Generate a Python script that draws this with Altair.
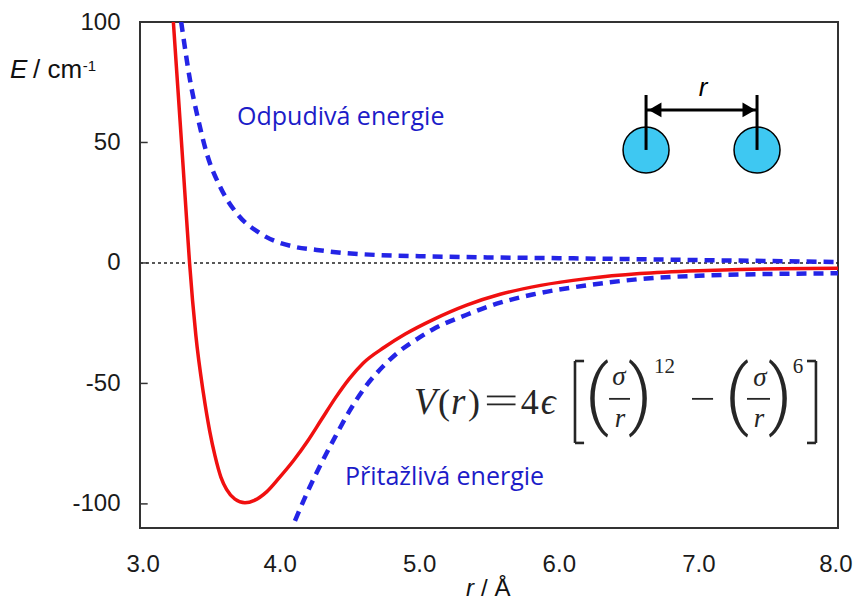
import altair as alt
import pandas as pd

# ---------------- data ----------------
r_total = [3.239, 3.26, 3.287, 3.31, 3.334, 3.355, 3.40, 3.454, 3.50, 3.537, 3.58, 3.62,
           3.68, 3.752, 3.82, 3.907, 4.0, 4.1, 4.2, 4.3, 4.4, 4.5, 4.6, 4.75, 4.9, 5.1,
           5.34, 5.58, 5.87, 6.2, 6.58, 7.0, 7.3, 7.6, 8.0]
e_total = [100, 82, 59, 39, 18, 0, -30, -54, -70, -80, -89, -94,
           -98, -99.5, -98.5, -95, -89, -82, -74, -65, -56, -48, -41.5, -35, -29.5, -23.5,
           -17.5, -13, -9.3, -6.5, -4.4, -3.2, -2.7, -2.4, -2.2]

r_rep = [3.295, 3.305, 3.358, 3.418, 3.478, 3.573, 3.693, 3.86, 4.098, 4.266, 4.45,
         4.7, 5.0, 5.5, 6.0, 6.5, 7.0, 7.5, 8.0]
e_rep = [100, 96, 76, 59.3, 45.5, 31.7, 20.6, 12.3, 6.8, 5.4, 4.2,
         3.3, 2.8, 2.3, 2.0, 1.6, 1.2, 0.8, 0.4]

r_att = [4.11, 4.2, 4.3, 4.4, 4.5, 4.62, 4.74, 4.862, 5.0, 5.1, 5.34, 5.58, 5.82,
         6.2, 6.58, 7.0, 7.3, 7.6, 8.0]
e_att = [-107, -95, -83, -72, -61.5, -51, -43, -36.5, -31, -27.5, -21.5, -16.5, -13,
         -9.3, -6.7, -5.3, -4.8, -4.5, -4.3]

x_ticks = [3.0, 4.0, 5.0, 6.0, 7.0, 8.0]
y_ticks = [100, 50, 0, -50, -100]

label_rep = "Odpudivá energie"
label_att = "Přitažlivá energie"

# ---------------- scales & axes ----------------
xs = alt.Scale(domain=[3, 8], nice=False, zero=False)
ys = alt.Scale(domain=[-110, 100], nice=False, zero=False)

x_axis = alt.Axis(values=x_ticks, format=".1f", ticks=False, domain=False, grid=False,
                  labelFontSize=24, labelPadding=24, labelFlush=True, labelFlushOffset=14,
                  labelColor="#1a1a1a", labelFont="Liberation Sans", title=None)
y_axis = alt.Axis(values=y_ticks, ticks=False, domain=False, grid=False,
                  labelFontSize=24, labelPadding=20, labelFlush=False, labelColor="#1a1a1a",
                  labelFont="Liberation Sans", title=None,
                  labelExpr="replace(datum.label, '\u2212', '-')")


def enc_xy():
    return dict(x=alt.X("x:Q", scale=xs, axis=x_axis), y=alt.Y("y:Q", scale=ys, axis=y_axis))


def text_layer(rows, **kw):
    df = pd.DataFrame(rows, columns=["x", "y", "t"])
    return alt.Chart(df).mark_text(**kw).encode(text="t:N", **enc_xy())


def seg_layer(rows, **kw):
    df = pd.DataFrame(rows, columns=["x", "y", "x2", "y2"])
    return alt.Chart(df).mark_rule(**kw).encode(x2="x2:Q", y2="y2:Q", **enc_xy())


df_total = pd.DataFrame({"x": r_total, "y": e_total})
df_rep = pd.DataFrame({"x": r_rep, "y": e_rep})
df_att = pd.DataFrame({"x": r_att, "y": e_att})

# zero reference line
zero = seg_layer([(3.0, 0, 8.0, 0)], color="#222222", strokeWidth=1.6, strokeDash=[3, 3])

# inward y ticks
ticks = seg_layer([(3.0, v, 3.055, v) for v in y_ticks if v != 100], color="#333333", strokeWidth=1.5)

red = alt.Chart(df_total).mark_line(color="#f01010", strokeWidth=3.5, interpolate="monotone",
                                    clip=True).encode(**enc_xy())
blue_rep = alt.Chart(df_rep).mark_line(color="#2424e6", strokeWidth=4.5, strokeDash=[10, 7],
                                       interpolate="monotone", clip=True).encode(**enc_xy())
blue_att = alt.Chart(df_att).mark_line(color="#2424e6", strokeWidth=4.5, strokeDash=[10, 7],
                                       interpolate="monotone", clip=True).encode(**enc_xy())

# labels
lab_font = dict(font="Open Sans", fontSize=25, color="#1c1cc8", align="left", baseline="middle")
labels = text_layer([(3.695, 60.6, label_rep), (4.468, -88.8, label_att)], **lab_font)

# formula  V(r) = 4ϵ [ (σ/r)^12 − (σ/r)^6 ]
fcol = "#262626"
serif = "Liberation Serif"
f_base = -62.7
f_ital = text_layer([(4.963, f_base, "V"), (5.228, f_base, "r"), (5.87, f_base, "ϵ")],
                    font=serif, fontSize=37, fontStyle="italic", color=fcol, align="left",
                    baseline="alphabetic")
f_reg = text_layer([(5.135, f_base, "("), (5.35, f_base, ")"), (5.728, f_base, "4")],
                   font=serif, fontSize=36, color=fcol, align="left", baseline="alphabetic")
f_paren = text_layer([(6.274, -65.1, "("), (6.582, -65.1, ")"), (7.277, -65.1, "("), (7.585, -65.1, ")")],
                     font="Roboto", fontWeight=300, fontSize=76, color=fcol, align="center",
                     baseline="alphabetic")
f_frac = text_layer([(6.431, -50.6, "σ"), (6.438, -68.0, "r"), (7.441, -51.0, "σ"), (7.434, -68.0, "r")],
                    font=serif, fontSize=27, fontStyle="italic", color=fcol, align="center",
                    baseline="alphabetic")
f_exp = text_layer([(6.682, -45.6, "12"), (7.675, -45.6, "6")],
                   font=serif, fontSize=21, color=fcol, align="left", baseline="alphabetic")
f_rules = seg_layer([
    (6.36, -56.4, 6.51, -56.4),      # fraction bar 1
    (7.348, -56.4, 7.513, -56.4),    # fraction bar 2
    (6.954, -56.4, 7.105, -56.4),    # minus sign
    (5.485, -55.4, 5.69, -55.4),     # = (upper)
    (5.485, -58.7, 5.69, -58.7),     # = (lower)
], color=fcol, strokeWidth=1.8)
f_brackets = seg_layer([
    (6.116, -40.7, 6.116, -74.7),    # [
    (6.116, -40.7, 6.181, -40.7),
    (6.116, -74.7, 6.181, -74.7),
    (7.842, -40.7, 7.842, -74.7),    # ]
    (7.778, -40.7, 7.842, -40.7),
    (7.778, -74.7, 7.842, -74.7),
], color=fcol, strokeWidth=2.6)

# molecule sketch
mol_x = [6.625, 7.42]
mol_df = pd.DataFrame({"x": mol_x, "y": [46.9, 46.9]})
circles = alt.Chart(mol_df).mark_point(shape="circle", filled=True, fill="#3ec8f2", stroke="black",
                                       strokeWidth=1.5, size=2116, opacity=1).encode(**enc_xy())
mol_lines = seg_layer([(mol_x[0], 69.7, mol_x[0], 46.9), (mol_x[1], 69.7, mol_x[1], 46.9),
                       (mol_x[0], 63.5, mol_x[1], 63.5)], color="black", strokeWidth=3)
arrow_l = alt.Chart(pd.DataFrame({"x": [6.689], "y": [63.5]})).mark_point(
    shape="triangle-left", filled=True, color="black", size=220, opacity=1).encode(**enc_xy())
arrow_r = alt.Chart(pd.DataFrame({"x": [7.362], "y": [63.5]})).mark_point(
    shape="triangle-right", filled=True, color="black", size=220, opacity=1).encode(**enc_xy())
mol_r = text_layer([(7.033, 72.6, "r")], font="Liberation Sans", fontSize=26, fontStyle="italic",
                   color="black", align="center", baseline="middle")

# axis titles as text
ytitle_i = text_layer([(2.069, 76.8, "E")], font="Liberation Sans", fontSize=26, fontStyle="italic",
                      color="#111111", align="left", baseline="alphabetic")
ytitle_r = text_layer([(2.234, 76.8, "/ cm")], font="Liberation Sans", fontSize=26,
                      color="#111111", align="left", baseline="alphabetic")
ytitle_s = text_layer([(2.59, 79.7, "-1")], font="Liberation Sans", fontSize=15,
                      color="#111111", align="left", baseline="alphabetic")
xtitle_i = text_layer([(5.335, -138.4, "r")], font="Liberation Sans", fontSize=24, fontStyle="italic",
                      color="#111111", align="left", baseline="alphabetic")
xtitle_r = text_layer([(5.443, -138.4, "/ Å")], font="Liberation Sans", fontSize=24,
                      color="#111111", align="left", baseline="alphabetic")

chart = alt.layer(
    zero, ticks, blue_rep, blue_att, red, labels,
    f_ital, f_reg, f_paren, f_frac, f_exp, f_rules, f_brackets,
    circles, mol_lines, arrow_l, arrow_r, mol_r,
    ytitle_i, ytitle_r, ytitle_s, xtitle_i, xtitle_r,
).properties(
    width=698, height=506,
    autosize=alt.AutoSizeParams(type="none"),
    padding={"left": 132, "top": 14, "right": 15, "bottom": 76},
    background="white",
).configure_view(stroke="#333333", strokeWidth=2)

chart.save("out.html", embed_options={"renderer": "svg", "actions": False})
